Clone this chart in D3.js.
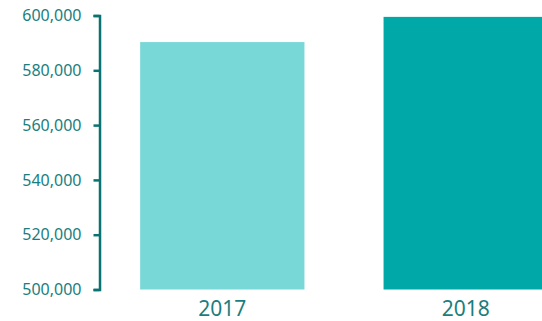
<!DOCTYPE html>
<html>
<head>
<meta charset="utf-8">
<script src="https://cdn.jsdelivr.net/npm/d3@7"></script>
<style>
  html, body { margin: 0; padding: 0; background: #fff; }
  svg { display: block; }
</style>
</head>
<body>
<svg id="chart" width="542" height="321"></svg>
<script>
// Yearly totals
const years = ["2017", "2018"];
const totals = [590300, 599500];
const barColors = ["#78d7d7", "#00a8a8"];
const yTicks = [500000, 520000, 540000, 560000, 580000, 600000];

const svg = d3.select("#chart");
const W = 542, H = 321;

const y = d3.scaleLinear()
  .domain([500000, 600000])
  .range([289.5, 15.5]);

const x = d3.scaleBand()
  .domain(years)
  .range([100, 588])
  .paddingInner(0.325)
  .paddingOuter(0.165);

// Bars
svg.append("g")
  .selectAll("rect")
  .data(years)
  .join("rect")
  .attr("x", d => x(d))
  .attr("width", x.bandwidth())
  .attr("y", (d, i) => y(totals[i]))
  .attr("height", (d, i) => y(500000) - y(totals[i]))
  .attr("fill", (d, i) => barColors[i]);

// Y axis
const yAxis = d3.axisLeft(y)
  .tickValues(yTicks)
  .tickFormat(d3.format(","))
  .tickSize(6)
  .tickSizeOuter(6)
  .tickPadding(12);

const gy = svg.append("g")
  .attr("transform", "translate(99.5,0)")
  .call(yAxis);

gy.select(".domain")
  .attr("stroke", "#0b7272")
  .attr("stroke-width", 2.5);
gy.selectAll(".tick line")
  .attr("stroke", "#0b7272")
  .attr("stroke-width", 2.5);
gy.selectAll(".tick text")
  .attr("fill", "#1b7e7e")
  .style("font-family", "'Noto Sans', 'Open Sans', sans-serif")
  .style("font-size", "16px");

// Year labels
svg.append("g")
  .selectAll("text")
  .data(years)
  .join("text")
  .attr("x", d => x(d) + x.bandwidth() / 2)
  .attr("y", 316)
  .attr("text-anchor", "middle")
  .attr("fill", "#1b7e7e")
  .style("font-family", "'Noto Sans', 'Open Sans', sans-serif")
  .style("font-size", "21px")
  .text(d => d);
</script>
</body>
</html>
